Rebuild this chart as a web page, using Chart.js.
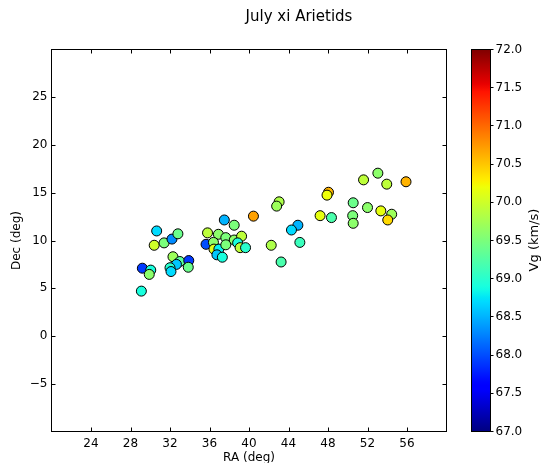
<!DOCTYPE html>
<html><head><meta charset="utf-8">
<script src="https://cdn.jsdelivr.net/npm/chart.js@4.4.0/dist/chart.umd.min.js"></script>
<style>
html,body{margin:0;padding:0;background:#fff;overflow:hidden;width:544px;height:463px}
#wrap{position:relative;width:544px;height:463px;overflow:hidden}
canvas{position:absolute;left:0;top:0}
</style></head><body>
<div id="wrap"><canvas id="main" width="544" height="475"></canvas><canvas id="cb" width="544" height="475"></canvas></div>
<script>
// ---- data ----
const ra  = [29.1, 29.2, 30.05, 29.9, 30.65, 30.4, 31.4, 32.2, 32.8, 32.3, 33.0, 32.65, 32.0, 32.1, 33.9, 33.85,
             37.5, 38.5, 40.45, 35.8, 36.9, 37.65, 38.5, 39.25, 35.65, 36.4, 36.45, 36.95, 38.85, 39.1, 39.65, 37.65,
             36.75, 37.3, 42.25, 43.05, 42.8, 48.05, 47.9, 47.2, 48.35, 44.95, 44.3, 45.15, 43.25,
             51.6, 53.05, 53.95, 55.9, 50.55, 52.0, 53.35, 54.45, 54.05, 50.5, 50.55];
const dec = [4.7, 7.1, 6.9, 6.45, 11.0, 9.5, 9.75, 10.15, 10.7, 8.3, 7.8, 7.5, 7.15, 6.75, 7.9, 7.2,
             12.15, 11.6, 12.55, 10.8, 10.65, 10.3, 10.05, 10.45, 9.6, 9.8, 9.1, 9.1, 9.75, 9.25, 9.25, 9.55,
             8.5, 8.25, 9.5, 14.05, 13.6, 15.05, 14.75, 12.6, 12.4, 11.6, 11.1, 9.8, 7.75,
             16.35, 17.05, 15.9, 16.15, 13.95, 13.45, 13.1, 12.75, 12.15, 12.6, 11.8];
const vg  = [68.9, 67.9, 68.9, 69.6, 68.7, 70.0, 69.5, 68.3, 69.4, 69.7, 69.3, 68.6, 69.0, 68.7, 67.9, 69.4,
             68.5, 69.5, 70.7, 69.9, 69.6, 69.5, 69.6, 69.9, 68.0, 69.6, 70.1, 68.8, 68.9, 69.9, 69.0, 69.5,
             68.6, 68.9, 69.8, 69.8, 69.7, 70.6, 70.2, 70.15, 69.2, 68.5, 68.7, 69.1, 69.2,
             69.9, 69.6, 69.9, 70.6, 69.4, 69.6, 70.15, 69.7, 70.4, 69.5, 69.6];
const xTicks = [24, 28, 32, 36, 40, 44, 48, 52, 56];
const yTicks = [-5, 0, 5, 10, 15, 20, 25];
const cbTicks = [67.0, 67.5, 68.0, 68.5, 69.0, 69.5, 70.0, 70.5, 71.0, 71.5, 72.0];
const vMin = 67, vMax = 72;

// matplotlib jet colormap
const jetSeg = {
  r: [[0,0],[0.35,0],[0.66,1],[0.89,1],[1,0.5]],
  g: [[0,0],[0.125,0],[0.375,1],[0.64,1],[0.91,0],[1,0]],
  b: [[0,0.5],[0.11,1],[0.34,1],[0.65,0],[1,0]]
};
function seg(pts, t){
  for (let i=1;i<pts.length;i++){
    if (t <= pts[i][0]) {
      const [x0,y0] = pts[i-1], [x1,y1] = pts[i];
      return y0 + (y1-y0)*(t-x0)/(x1-x0);
    }
  }
  return pts[pts.length-1][1];
}
function jet(v){
  const t = Math.min(1, Math.max(0, (v - vMin)/(vMax - vMin)));
  const c = k => Math.round(255*seg(jetSeg[k], t));
  return `rgb(${c('r')},${c('g')},${c('b')})`;
}

const FONT = {family: "'DejaVu Sans', sans-serif", size: 12};
const TICK_LEN = 4;

const framePlugin = {
  id: 'frame',
  afterDraw(chart){
    const {ctx, chartArea: a, scales: {x, y}} = chart;
    ctx.save();
    ctx.strokeStyle = '#000';
    ctx.lineWidth = 1;
    ctx.beginPath();
    x.ticks.forEach(t => {
      const px = Math.round(x.getPixelForValue(t.value)) + 0.5;
      ctx.moveTo(px, a.bottom); ctx.lineTo(px, a.bottom - TICK_LEN);
      ctx.moveTo(px, a.top); ctx.lineTo(px, a.top + TICK_LEN);
    });
    y.ticks.forEach(t => {
      const py = Math.round(y.getPixelForValue(t.value)) + 0.5;
      ctx.moveTo(a.left, py); ctx.lineTo(a.left + TICK_LEN, py);
      ctx.moveTo(a.right, py); ctx.lineTo(a.right - TICK_LEN, py);
    });
    ctx.stroke();
    ctx.strokeRect(a.left, a.top, a.right - a.left, a.bottom - a.top);
    ctx.fillStyle = '#000';
    ctx.font = "15px 'DejaVu Sans', sans-serif";
    ctx.textAlign = 'center';
    ctx.textBaseline = 'middle';
    ctx.fillText('July xi Arietids', 299, 17);
    ctx.restore();
  }
};

new Chart(document.getElementById('main'), {
  type: 'scatter',
  data: {
    datasets: [{
      data: ra.map((v, i) => ({x: v, y: dec[i]})),
      pointBackgroundColor: vg.map(jet),
      pointBorderColor: '#000',
      pointBorderWidth: 1,
      pointRadius: 5,
      pointHoverRadius: 5
    }]
  },
  options: {
    responsive: false,
    devicePixelRatio: 1,
    animation: false,
    events: [],
    layout: {padding: {left: 0, top: 49.5, right: 97.5, bottom: 0}},
    plugins: {legend: {display: false}, tooltip: {enabled: false}},
    scales: {
      x: {
        type: 'linear', position: 'bottom', min: 20, max: 60,
        afterBuildTicks: s => { s.ticks = xTicks.map(v => ({value: v})); },
        afterFit: s => { s.height = 475 - 431.5; },
        grid: {display: false, drawTicks: false},
        border: {display: false},
        ticks: {color: '#000', font: FONT, padding: 5, maxRotation: 0, autoSkip: false},
        title: {display: true, text: 'RA (deg)', color: '#000', font: FONT, padding: {top: 0, bottom: 9.8}}
      },
      y: {
        type: 'linear', position: 'left', min: -10, max: 30,
        afterBuildTicks: s => { s.ticks = yTicks.map(v => ({value: v})); },
        afterFit: s => { s.width = 51.5; },
        grid: {display: false, drawTicks: false},
        border: {display: false},
        ticks: {color: '#000', font: FONT, padding: 4, autoSkip: false,
                callback: v => (v < 0 ? '\u2212' + Math.abs(v) : String(v))},
        title: {display: true, text: 'Dec (deg)', color: '#000', font: FONT, padding: {top: 10, bottom: 0}}
      }
    }
  },
  plugins: [framePlugin]
});

// ---- colorbar ----
const cbPlugin = {
  id: 'cbframe',
  afterDraw(chart){
    const {ctx, chartArea: a} = chart;
    ctx.save();
    ctx.strokeStyle = '#000';
    ctx.lineWidth = 1;
    ctx.strokeRect(a.left, a.top, a.right - a.left, a.bottom - a.top);
    ctx.fillStyle = '#000';
    ctx.font = "13px 'DejaVu Sans', sans-serif";
    ctx.textAlign = 'center';
    ctx.textBaseline = 'middle';
    ctx.translate(535, 240);
    ctx.rotate(-Math.PI/2);
    ctx.fillText('Vg (km/s)', 0, 0);
    ctx.restore();
  }
};

new Chart(document.getElementById('cb'), {
  type: 'bar',
  data: {
    labels: ['Vg'],
    datasets: [{
      data: [[vMin, vMax]],
      borderWidth: 0,
      barPercentage: 1,
      categoryPercentage: 1,
      backgroundColor: c => {
        const a = c.chart.chartArea;
        if (!a) return '#888';
        const g = c.chart.ctx.createLinearGradient(0, a.bottom, 0, a.top);
        for (let i = 0; i <= 100; i++) g.addColorStop(i/100, jet(vMin + (vMax - vMin)*i/100));
        return g;
      }
    }]
  },
  options: {
    responsive: false,
    devicePixelRatio: 1,
    animation: false,
    events: [],
    layout: {padding: {left: 471.5, top: 49.5, right: 0, bottom: 475 - 431.5}},
    plugins: {legend: {display: false}, tooltip: {enabled: false}},
    scales: {
      x: {display: false},
      y: {
        position: 'right', min: vMin, max: vMax,
        afterBuildTicks: s => { s.ticks = cbTicks.map(v => ({value: v})); },
        afterFit: s => { s.width = 544 - 490.5; },
        grid: {drawOnChartArea: false, drawTicks: true, tickLength: 3, color: '#000'},
        border: {display: false},
        ticks: {color: '#000', font: FONT, padding: 2, autoSkip: false, callback: v => v.toFixed(1)}
      }
    }
  },
  plugins: [cbPlugin]
});
</script>
</body></html>
